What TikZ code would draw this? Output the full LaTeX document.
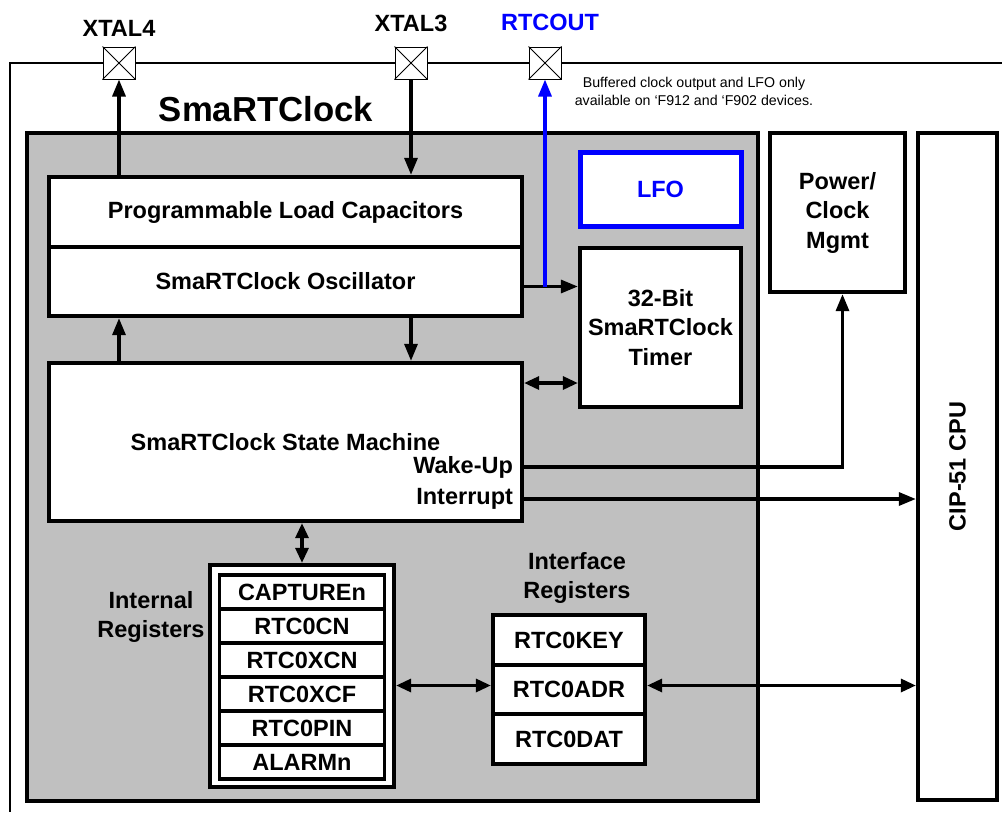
\documentclass[tikz,border=0pt]{standalone}
\usepackage{fontspec}
\setmainfont{Liberation Sans}
\usepackage{xcolor}
\usepackage{tikz}
\usetikzlibrary{arrows.meta, positioning, calc}
\definecolor{rtcgray}{RGB}{192,192,192}
\definecolor{lfoblue}{RGB}{0,0,255}
\newcommand{\mainfnt}{\fontsize{23.5}{29.5}\selectfont\bfseries}
\newcommand{\titlefnt}{\fontsize{34.7}{40}\selectfont\bfseries}
\newcommand{\notefnt}{\fontsize{14.2}{18}\selectfont}
\tikzset{
  %% Generic white block
  blk/.style={
    rectangle, draw=#1, fill=white,
    text=#1, font=\mainfnt, align=center,
    inner sep=2pt, line width=4.3pt
  },
  blk/.default=black,
  %% Register cell
  regcell/.style={
    rectangle, draw=black, fill=white,
    font=\mainfnt, inner sep=0pt,
    minimum width=#1, line width=3.6pt
  },
  regcell/.default=165pt,
  %% Grey SmaRTClock area
  gbox/.style={
    rectangle, draw=black, fill=rtcgray,
    line width=4.3pt, inner sep=0pt
  },
  %% Pin pad
  pad/.style={
    rectangle, draw=black, fill=white,
    minimum size=32pt, inner sep=0pt, line width=1pt
  },
  %% Plain label
  lbl/.style={font=\mainfnt, align=center, inner sep=0pt},
  %% Arrow
  arr/.style={-{Triangle[length=17pt,width=13pt]},
              draw=black, line width=3.2pt},
  darr/.style={{Triangle[length=15pt,width=13pt]}-%
               {Triangle[length=15pt,width=13pt]},
               draw=black, line width=3.2pt},
  outline/.style={draw=black, line width=2.5pt},
}
\begin{document}
\begin{tikzpicture}[x=1pt, y=-1pt]
  \useasboundingbox (0,0) rectangle (1002,812);

  %% Chip outline
  \draw[outline] (1002,63) -- (10,63) -- (10,812);

  \node[gbox, minimum width=731pt, minimum height=668pt] (rtc)
       at (392.5,467) {};
  \node[font=\titlefnt, inner sep=0pt] (ttl) at (266,109) {SmaRTClock};
  \node[font=\notefnt, align=center, inner sep=0pt] (note) at (694,91)
       {Buffered clock output and LFO only\\
        available on ‘F912 and ‘F902 devices.};

  %% Pins
  \node[pad] (x4) at (119,63) {};
  \node[pad] (x3) at (411,63) {};
  \node[pad] (rtco) at (545,63) {};
  \foreach \p in {x4, x3, rtco}
    \draw[line width=0.8pt] (\p.north west) -- (\p.south east)
                            (\p.north east) -- (\p.south west);
  \node[lbl] (lx4) at (119,28) {XTAL4};
  \node[lbl] (lx3) at (411,23) {XTAL3};
  \node[lbl, text=lfoblue] (lrto) at (550,22) {RTCOUT};

  %% Oscillator column
  \node[blk, minimum width=473pt, minimum height=70pt] (plc)
       at (285.5,212) {Programmable Load Capacitors};
  \node[blk, minimum width=473pt, minimum height=69pt,
        below=-4.3pt of plc] (osc) {SmaRTClock Oscillator};
  \node[blk, minimum width=473pt, minimum height=158pt,
        below=42.7pt of osc] (sm) {SmaRTClock State Machine};

  \node[blk=lfoblue, line width=5pt, minimum width=161pt,
        minimum height=74pt] (lfo) at (660.5,189) {LFO};
  \node[blk, minimum width=161pt, minimum height=159pt] (tmr)
       at (660.5,327.5) {32-Bit\\SmaRTClock\\Timer};

  \node[blk, minimum width=135pt, minimum height=159pt] (pwr)
       at (837.5,212.5) {Power/\\Clock\\Mgmt};
  \node[blk, minimum width=79pt, minimum height=667pt] (cpu)
       at (957.5,466.5) {\rotatebox{90}{CIP-51 CPU}};

  %% Internal registers
  \node[regcell=184pt, minimum height=222pt, line width=4.3pt] (ireg)
       at (302,676) {};
  \foreach \t [count=\i] in {CAPTUREn, RTC0CN, RTC0XCN, RTC0XCF,
                              RTC0PIN, ALARMn}
    \node[regcell, minimum height=34pt] (r\i) at (302,{558+34*\i}) {\t};
  \node[lbl] (lireg) at (151,617) {Internal\\Registers};

  %% Interface registers
  \foreach \t [count=\i] in {RTC0KEY, RTC0ADR, RTC0DAT}
    \node[regcell=152pt, minimum height=49.5pt, line width=4.3pt] (f\i)
         at (569,{590.5+49.5*\i}) {\t};
  \node[lbl] (lfreg) at (577,578) {Interface\\Registers};

  %% Arrows
  \foreach \a/\b in {plc.north -| x4/x4.south, x3.south/plc.north -| x3,
                     sm.north -| x4/osc.south -| x4,
                     osc.south -| x3/sm.north -| x3}
    \draw[arr] (\a) -- (\b);

  \coordinate (oe) at ([yshift=-5pt]osc.east);
  \draw[arr] (oe) -- (oe -| tmr.west);
  \draw[arr, draw=lfoblue] (oe -| rtco) -- (rtco.south);

  \coordinate (st) at ([yshift=59pt]sm.east);
  \draw[darr] (st) -- (st -| tmr.west);

  \coordinate (wk) at ([yshift=-25pt]sm.east);
  \coordinate (ir) at ([yshift=-57pt]sm.east);
  \draw[arr] (wk) -| ([xshift=5pt]pwr.south);
  \draw[arr] (ir) -- (ir -| cpu.west);
  \node[lbl, anchor=east] (lwk) at ([xshift=-11pt]wk) {Wake-Up};
  \node[lbl, anchor=east] (lir) at ([xshift=-11pt]ir) {Interrupt};

  \draw[darr] (sm.south -| ireg) -- (ireg.north);
  \coordinate (ra) at ([yshift=4pt]f2.west);
  \draw[darr] (ra -| ireg.east) -- (ra);
  \draw[darr] (ra -| f2.east) -- (ra -| cpu.west);

\end{tikzpicture}
\end{document}
